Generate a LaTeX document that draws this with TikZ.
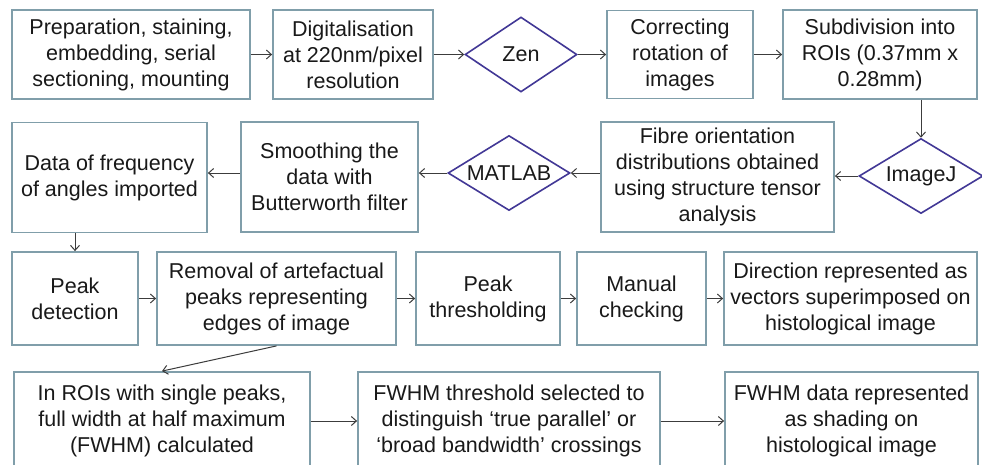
\documentclass[tikz,border=0pt]{standalone}
\usepackage{fontspec}
\setmainfont{Liberation Sans}
\usepackage{tikz}
\usetikzlibrary{arrows.meta,shapes.geometric,positioning}

\definecolor{boxc}{RGB}{128,158,170}
\definecolor{dmc}{RGB}{66,56,150}
\definecolor{arc}{RGB}{60,60,60}

\begin{document}
\begin{tikzpicture}
  [
   x=1pt,y=-1pt,
   bx/.style={rectangle,draw=boxc,line width=1.8pt,inner sep=0pt,align=center,
              text=black!90,font=\fontsize{21.5}{26}\selectfont},
   dn/.style={diamond,draw=dmc,line width=1.6pt,inner sep=0pt,
              minimum width=#1,minimum height=75pt},
   dn/.default=120pt,
   every label/.style={text=black!90,font=\fontsize{21.5}{26}\selectfont},
   ar/.style={-{Straight Barb[length=5pt,width=9pt]},draw=arc,line width=1pt}
  ]
   \path[use as bounding box,fill=white] (0,0) rectangle (982,464);

   % first row
   \node[bx,minimum width=238pt,minimum height=89pt] (prep) at (131,54.5)
        {Preparation, staining,\\embedding, serial\\sectioning, mounting};
   \node[bx,minimum width=160pt,minimum height=89pt] (digit) at (353,54.5)
        {Digitalisation\\at 220nm/pixel\\resolution};
   \node[dn=112pt,label=center:Zen] (zen) at (521,54.5) {};
   \node[bx,minimum width=146pt,minimum height=88pt] (rot) at (680,54.5)
        {Correcting\\rotation of\\images};
   \node[bx,minimum width=194pt,minimum height=89pt] (roi) at (880,54.5)
        {Subdivision into\\ROIs (0.37mm x\\0.28mm)};

   % second row, right to left
   \node[dn=124pt,label=center:ImageJ] (imj) at (921,176) {};
   \node[bx,minimum width=233pt,minimum height=110pt] (fibre) at (717.5,177)
        {Fibre orientation\\distributions obtained\\using structure tensor\\analysis};
   \node[dn=122pt,label=center:MATLAB] (mlab) at (509,173) {};
   \node[bx,minimum width=177pt,minimum height=110pt] (smooth) at (329.5,177)
        {Smoothing the\\data with\\Butterworth filter};
   \node[bx,minimum width=195pt,minimum height=110pt] (freq) at (109.5,177.5)
        {Data of frequency\\of angles imported};

   % third row
   \node[bx,minimum width=126pt,minimum height=93pt] (peak) at (75,298.5)
        {Peak\\detection};
   \node[bx,minimum width=239pt,minimum height=93pt] (artef) at (276.5,298.5)
        {Removal of artefactual\\peaks representing\\edges of image};
   \node[bx,minimum width=144pt,minimum height=93pt] (thr) at (488,298.5)
        {Peak\\thresholding};
   \node[bx,minimum width=129pt,minimum height=93pt] (manual) at (641.5,298.5)
        {Manual\\checking};
   \node[bx,minimum width=253pt,minimum height=93pt] (dir) at (850.5,298.5)
        {Direction represented as\\vectors superimposed on\\histological image};

   % fourth row
   \node[bx,minimum width=296pt,minimum height=98pt] (single) at (162,421)
        {In ROIs with single peaks,\\full width at half maximum\\(FWHM) calculated};
   \node[bx,minimum width=302pt,minimum height=98pt] (sel) at (509,421)
        {FWHM threshold selected to\\distinguish `true parallel' or\\`broad bandwidth' crossings};
   \node[bx,minimum width=253pt,minimum height=98pt] (shade) at (851.5,421)
        {FWHM data represented\\as shading on\\histological image};

   \draw[ar] (prep) -- (digit);
   \draw[ar] (digit) -- (zen);
   \draw[ar] (zen) -- (rot);
   \draw[ar] (rot) -- (roi);
   \draw[ar] (roi.south -| imj.north) -- (imj.north);
   \draw[ar] (imj.west) -- (imj.west -| fibre.east);
   \draw[ar] (fibre.west |- mlab) -- (mlab);
   \draw[ar] (mlab) -- (smooth.east |- mlab);
   \draw[ar] (smooth.west |- mlab) -- (freq.east |- mlab);
   \draw[ar] (freq.south -| peak) -- (peak);

   \draw[ar] (peak) -- (artef);
   \draw[ar] (artef) -- (thr);
   \draw[ar] (thr) -- (manual);
   \draw[ar] (manual) -- (dir);
   \draw[ar] (artef.south) -- (single.north);

   \draw[ar] (single) -- (sel);
   \draw[ar] (sel) -- (shade);

\end{tikzpicture}
\end{document}
